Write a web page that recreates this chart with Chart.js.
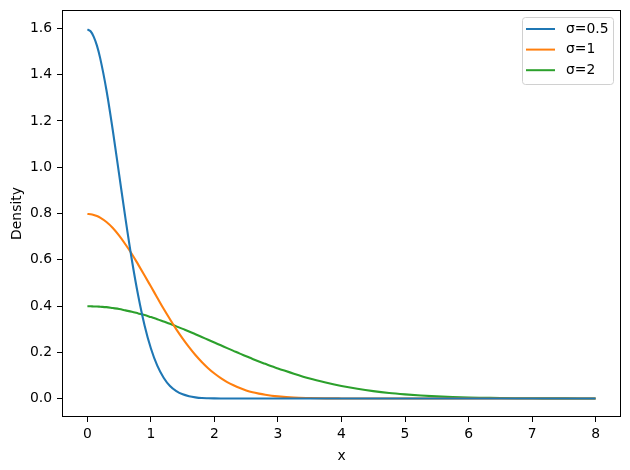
<!DOCTYPE html>
<html>
<head>
<meta charset="utf-8">
<script src="https://cdn.jsdelivr.net/npm/chart.js@4.4.1/dist/chart.umd.min.js"></script>
<style>
  html, body { margin: 0; padding: 0; background: #ffffff; }
  #grafico { display: block; }
</style>
</head>
<body>
<canvas id="grafico" width="630" height="470"></canvas>
<script>
const valoresX = [
  0, 0.05, 0.1, 0.15, 0.2, 0.3, 0.4, 0.5, 0.6, 0.7, 0.8, 0.9,
  1.0, 1.1, 1.2, 1.3, 1.4, 1.5, 1.6, 1.7, 1.8, 1.9,
  2.0, 2.1, 2.2, 2.3, 2.4, 2.5, 2.6, 2.7, 2.8, 2.9,
  3.0, 3.25, 3.5, 3.75, 4.0, 4.25, 4.5, 4.75, 5.0, 5.25,
  5.5, 5.75, 6.0, 6.25, 6.5, 6.75, 7.0, 7.25, 7.5, 7.75, 8.0
];

// Densidade para sigma = 0.5
const densidadeSigma05 = [
  1.596, 1.588, 1.564, 1.526, 1.473, 1.333, 1.159, 0.968, 0.777, 0.599, 0.444, 0.316,
  0.216, 0.142, 0.090, 0.054, 0.032, 0.018, 0.010, 0.005, 0.002, 0.001,
  0.0005, 0.0002, 0.0001, 0, 0, 0, 0, 0, 0, 0,
  0, 0, 0, 0, 0, 0, 0, 0, 0, 0,
  0, 0, 0, 0, 0, 0, 0, 0, 0, 0, 0
];

// Densidade para sigma = 1
const densidadeSigma1 = [
  0.798, 0.797, 0.794, 0.789, 0.782, 0.763, 0.737, 0.704, 0.666, 0.625, 0.579, 0.532,
  0.484, 0.436, 0.388, 0.343, 0.299, 0.259, 0.222, 0.188, 0.158, 0.131,
  0.108, 0.088, 0.071, 0.057, 0.045, 0.035, 0.027, 0.021, 0.016, 0.012,
  0.009, 0.004, 0.002, 0.0007, 0.0003, 0.0001, 0, 0, 0, 0,
  0, 0, 0, 0, 0, 0, 0, 0, 0, 0, 0
];

// Densidade para sigma = 2
const densidadeSigma2 = [
  0.399, 0.399, 0.398, 0.398, 0.397, 0.395, 0.391, 0.387, 0.381, 0.375, 0.368, 0.361,
  0.352, 0.343, 0.333, 0.323, 0.312, 0.301, 0.290, 0.278, 0.266, 0.254,
  0.242, 0.230, 0.218, 0.206, 0.194, 0.183, 0.171, 0.160, 0.150, 0.139,
  0.130, 0.107, 0.086, 0.069, 0.054, 0.042, 0.032, 0.024, 0.018, 0.013,
  0.009, 0.006, 0.004, 0.003, 0.002, 0.0013, 0.0009, 0.0006, 0.0004, 0.0002, 0.0001
];

// Rótulos das séries e ticks dos eixos
const rotulosSeries = ['σ=0.5', 'σ=1', 'σ=2'];
const coresSeries = ['#1f77b4', '#ff7f0e', '#2ca02c'];
const ticksX = [0, 1, 2, 3, 4, 5, 6, 7, 8];
const ticksY = [0.0, 0.2, 0.4, 0.6, 0.8, 1.0, 1.2, 1.4, 1.6];

const fonte = { family: '"DejaVu Sans", sans-serif', size: 13.9 };

// Monta os pontos {x, y} para cada série
function montarPontos(valores) {
  return valoresX.map((x, i) => ({ x: x, y: valores[i] }));
}

// Plugin para desenhar a moldura completa da área do gráfico
const molduraPlugin = {
  id: 'moldura',
  afterDatasetsDraw(chart) {
    const { ctx, chartArea } = chart;
    ctx.save();
    ctx.strokeStyle = '#000000';
    ctx.lineWidth = 1;
    ctx.strokeRect(chartArea.left + 0.5, chartArea.top + 0.5,
      chartArea.right - chartArea.left - 1, chartArea.bottom - chartArea.top - 1);
    ctx.restore();
  }
};

// Plugin para a legenda dentro da área, no canto superior direito
const legendaPlugin = {
  id: 'legendaInterna',
  afterDraw(chart) {
    const { ctx, chartArea } = chart;
    const largura = 91, altura = 67;
    const x0 = chartArea.right - 8 - largura;
    const y0 = chartArea.top + 7;
    ctx.save();
    ctx.fillStyle = 'rgba(255, 255, 255, 0.8)';
    ctx.strokeStyle = '#d0d0d0';
    ctx.lineWidth = 1;
    ctx.beginPath();
    ctx.roundRect(x0 + 0.5, y0 + 0.5, largura, altura, 3);
    ctx.fill();
    ctx.stroke();

    ctx.font = fonte.size + 'px ' + fonte.family;
    ctx.textBaseline = 'middle';
    ctx.textAlign = 'left';
    chart.data.datasets.forEach((ds, i) => {
      const y = y0 + 12 + i * 20.6;
      ctx.strokeStyle = ds.borderColor;
      ctx.lineWidth = 2;
      ctx.beginPath();
      ctx.moveTo(x0 + 4, y);
      ctx.lineTo(x0 + 33, y);
      ctx.stroke();
      ctx.fillStyle = '#000000';
      ctx.fillText(ds.label, x0 + 44, y);
    });
    ctx.restore();
  }
};

const series = [densidadeSigma05, densidadeSigma1, densidadeSigma2];

const ctx = document.getElementById('grafico').getContext('2d');
const grafico = new Chart(ctx, {
  type: 'line',
  data: {
    datasets: series.map((valores, i) => ({
      label: rotulosSeries[i],
      data: montarPontos(valores),
      borderColor: coresSeries[i],
      backgroundColor: coresSeries[i],
      borderWidth: 2.1,
      pointRadius: 0,
      cubicInterpolationMode: 'monotone',
      fill: false
    }))
  },
  options: {
    responsive: false,
    animation: false,
    devicePixelRatio: 1,
    layout: { padding: { top: 10, right: 9, left: 0, bottom: 0 } },
    plugins: {
      legend: { display: false },
      tooltip: { enabled: false }
    },
    scales: {
      x: {
        type: 'linear',
        min: -0.4,
        max: 8.4,
        afterBuildTicks: (escala) => { escala.ticks = ticksX.map(v => ({ value: v })); },
        afterFit: (escala) => {
          escala.height = 53;
          escala.paddingLeft = 0;
          escala.paddingRight = 0;
        },
        ticks: {
          color: '#000000',
          font: fonte,
          padding: 4,
          maxRotation: 0,
          callback: (v) => String(v)
        },
        grid: { drawOnChartArea: false, drawTicks: true, tickLength: 5, color: '#000000', lineWidth: 1 },
        border: { display: false },
        title: { display: true, text: 'x', color: '#000000', font: fonte, padding: { top: 0, bottom: 5 } }
      },
      y: {
        type: 'linear',
        min: -0.08,
        max: 1.68,
        afterBuildTicks: (escala) => { escala.ticks = ticksY.map(v => ({ value: v })); },
        afterFit: (escala) => {
          escala.width = 62;
          escala.paddingTop = 0;
          escala.paddingBottom = 0;
        },
        ticks: {
          color: '#000000',
          font: fonte,
          padding: 5,
          callback: (v) => Number(v).toFixed(1)
        },
        grid: { drawOnChartArea: false, drawTicks: true, tickLength: 5, color: '#000000', lineWidth: 1 },
        border: { display: false },
        title: { display: true, text: 'Density', color: '#000000', font: fonte, padding: { top: 9, bottom: 0 } }
      }
    }
  },
  plugins: [molduraPlugin, legendaPlugin]
});
</script>
</body>
</html>
